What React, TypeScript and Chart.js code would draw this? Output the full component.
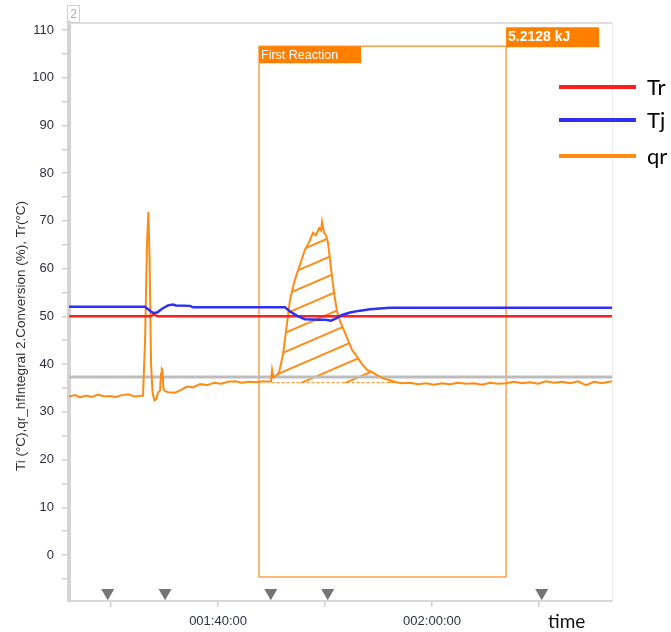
import React, { useEffect, useRef } from 'react';
import { Chart, registerables } from 'chart.js';

Chart.register(...registerables);

// ---------- data (x in minutes of elapsed time) ----------
const qrTimes = [
  86.07, 86.64, 87.1, 87.66, 88.22, 88.79, 89.35, 89.91, 90.47, 91.03, 91.59, 92.15, 92.71, 92.99,
  93.18, 93.36, 93.49, 93.6, 93.74, 93.88, 94.05, 94.21, 94.39, 94.58, 94.67, 94.74, 94.81, 94.89,
  95.0, 95.33, 95.98, 96.54, 97.1, 97.66, 98.32, 98.97, 99.63, 100.28, 100.93, 101.59, 102.24,
  102.9, 103.55, 104.21, 104.77, 104.95, 105.05, 105.19, 105.42, 105.7, 106.07, 106.36, 106.73,
  107.1, 107.38, 107.76, 108.13, 108.5, 108.88, 109.16, 109.44, 109.63, 109.72, 109.91, 110.09,
  110.28, 110.56, 110.84, 111.12, 111.4, 111.78, 112.15, 112.52, 113.0, 113.46, 113.93, 114.39,
  114.86, 115.42, 116.07, 116.64, 117.2, 117.94, 118.69, 119.44, 120.19, 120.93, 121.68, 122.43,
  123.18, 123.93, 124.67, 125.42, 126.17, 126.92, 127.66, 128.41, 129.16, 129.91, 130.65, 131.4,
  132.15, 132.9, 133.64, 134.39, 135.14, 135.89, 136.82,
];
const qrValues = [
  33.2, 33.5, 33.0, 33.4, 33.1, 33.6, 33.2, 33.3, 33.1, 33.5, 33.7, 33.2, 33.3, 33.4,
  45.0, 65.0, 71.9, 62.0, 40.0, 34.0, 32.4, 32.6, 34.0, 34.5, 38.0, 39.0, 38.8, 35.0,
  34.4, 34.1, 34.0, 34.6, 35.3, 35.1, 35.8, 35.6, 36.1, 35.9, 36.3, 36.4, 36.1,
  36.3, 36.2, 36.4, 36.3, 36.4, 38.8, 37.2, 37.6, 38.2, 42.0, 47.0, 53.5,
  57.0, 59.0, 61.5, 64.0, 65.5, 67.5, 67.0, 68.5, 68.0, 69.8, 67.5, 67.0,
  65.4, 60.0, 55.0, 51.0, 49.0, 47.0, 45.0, 43.0, 41.5, 40.0, 38.8, 38.3,
  37.7, 37.0, 36.6, 36.2, 36.0, 36.1, 35.8, 36.0, 35.7, 36.0, 35.8, 36.1,
  35.9, 36.0, 35.7, 36.1, 35.9, 36.0, 36.3, 36.0, 36.2, 35.9, 36.4, 36.1,
  36.3, 36.0, 36.4, 35.6, 36.3, 36.0, 36.4,
];
const tjTimes = [
  86.07, 93.18, 93.46, 93.93, 94.3, 94.77, 95.33, 95.79, 96.07, 97.38, 97.66, 106.26, 106.73,
  107.48, 108.13, 109.35, 110.09, 110.56, 111.03, 111.59, 112.34, 113.27, 114.21, 116.07, 136.82,
];
const tjValues = [
  52.0, 52.0, 51.5, 50.7, 50.8, 51.6, 52.3, 52.5, 52.3, 52.2, 51.9, 51.9, 51.0,
  50.0, 49.4, 49.3, 49.3, 49.1, 49.6, 50.3, 50.8, 51.2, 51.5, 51.8, 51.8,
];
const trTimes = [86.07, 93.6, 94.0, 94.4, 136.82];
const trValues = [50.0, 50.0, 50.3, 50.0, 50.0];
const refTimes = [86.07, 136.82];
const refValues = [37.3, 37.3];
const markerTimes = [89.69, 95.05, 104.93, 110.25, 130.25];
const markerLevel = -7.9;

const xTickValues = [90, 100, 110, 120, 130];
const xLabelValues = [100, 120];
const yTickValues = [-5, 0, 5, 10, 15, 20, 25, 30, 35, 40, 45, 50, 55, 60, 65, 70, 75, 80, 85, 90, 95, 100, 105, 110];
const yLabelStep = 10;
const xMin = 86.07;
const xMax = 136.82;
const yMin = -9.64;
const yMax = 111.47;

const reactionStart = 103.83;
const reactionEnd = 126.92;
const reactionTop = 106.6;
const reactionBottom = -4.6;
const reactionLabel = 'First Reaction';
const reactionEnergy = '5.2128 kJ';
const integralStart = 105.0;
const integralEnd = 116.64;
const integralBase = 36.1;

const seriesNames = ['Tr', 'Tj', 'qr'];
const yTitle = 'Ti (°C),qr_hfIntegral 2.Conversion (%), Tr(°C)';
const xTitle = 'time';
const panelNumber = '2';

// ---------- styles ----------
const RED = '#ff1f1f';
const BLUE = '#2f2ff5';
const ORANGE = '#ff8a14';
const FONT = "'Liberation Sans', Arial, sans-serif";
const LEGEND_FONT = "Lato, 'Liberation Sans', sans-serif";

const pts = (xs: number[], ys: number[]) => xs.map((x, i) => ({ x, y: ys[i] }));

const fmtTime = (m: number) => {
  const h = Math.floor(m / 60);
  const mm = Math.round(m - h * 60);
  return String(h).padStart(3, '0') + ':' + String(mm).padStart(2, '0') + ':00';
};

function makeHatch(): CanvasPattern | string {
  const W = 44, H = 19;
  const c = document.createElement('canvas');
  c.width = W;
  c.height = H;
  const g = c.getContext('2d');
  if (!g) return 'rgba(255,138,20,0.3)';
  g.strokeStyle = ORANGE;
  g.lineWidth = 2;
  g.lineCap = 'butt';
  for (const dy of [-H, 0, H]) {
    g.beginPath();
    g.moveTo(-W * 0.1, H + dy + H * 0.1);
    g.lineTo(W * 1.1, dy - H * 0.1);
    g.stroke();
  }
  const p = g.createPattern(c, 'repeat');
  return p || 'rgba(255,138,20,0.3)';
}

const overlay = {
  id: 'overlay',
  beforeDatasetsDraw(chart: any) {
    const { ctx, chartArea, scales } = chart;
    const x = scales.x, y = scales.y;
    ctx.save();
    ctx.strokeStyle = '#e0e0e0';
    ctx.lineWidth = 2;
    ctx.beginPath();
    ctx.moveTo(chartArea.left, chartArea.top);
    ctx.lineTo(chartArea.right, chartArea.top);
    ctx.stroke();
    ctx.strokeStyle = '#eeeeee';
    ctx.lineWidth = 1;
    ctx.beginPath();
    ctx.moveTo(chartArea.right + 0.5, chartArea.top);
    ctx.lineTo(chartArea.right + 0.5, chartArea.bottom);
    ctx.stroke();
    const l = x.getPixelForValue(reactionStart);
    const r = x.getPixelForValue(reactionEnd);
    const t = y.getPixelForValue(reactionTop);
    const b = y.getPixelForValue(reactionBottom);
    ctx.strokeStyle = '#f8a24c';
    ctx.lineWidth = 1.5;
    ctx.strokeRect(l, t, r - l, b - t);
    ctx.restore();
  },
  afterDraw(chart: any) {
    const { ctx, scales } = chart;
    const x = scales.x, y = scales.y;
    ctx.save();
    ctx.strokeStyle = '#d0d0d0';
    ctx.lineWidth = 1;
    ctx.strokeRect(67.5, 5.5, 12, 17);
    ctx.fillStyle = '#b0b0b0';
    ctx.font = `12px ${FONT}`;
    ctx.textAlign = 'center';
    ctx.textBaseline = 'middle';
    ctx.fillText(panelNumber, 73.5, 14.5);

    const l = x.getPixelForValue(reactionStart);
    const r = x.getPixelForValue(reactionEnd);
    const t = y.getPixelForValue(reactionTop);
    ctx.fillStyle = '#ff8000';
    ctx.fillRect(l, t, 102, 17);
    ctx.fillRect(r, t - 19, 93, 20);
    ctx.fillStyle = '#ffffff';
    ctx.textAlign = 'left';
    ctx.textBaseline = 'middle';
    ctx.font = `12.5px ${FONT}`;
    ctx.fillText(reactionLabel, l + 2, t + 9);
    ctx.font = `bold 14px ${FONT}`;
    ctx.fillText(reactionEnergy, r + 2, t - 9);

    const colors = [RED, BLUE, ORANGE];
    const ys = [87, 120, 156];
    ctx.lineWidth = 4;
    ctx.font = `22px ${LEGEND_FONT}`;
    seriesNames.forEach((name, i) => {
      ctx.strokeStyle = colors[i];
      ctx.beginPath();
      ctx.moveTo(559, ys[i]);
      ctx.lineTo(636, ys[i]);
      ctx.stroke();
      ctx.fillStyle = '#000000';
      ctx.textAlign = 'left';
      ctx.textBaseline = 'middle';
      ctx.fillText(name, 647, ys[i] + 1);
    });

    ctx.save();
    ctx.translate(21, 336);
    ctx.rotate(-Math.PI / 2);
    ctx.fillStyle = '#2e2e2e';
    ctx.font = `13.5px ${FONT}`;
    ctx.textAlign = 'center';
    ctx.textBaseline = 'middle';
    ctx.fillText(yTitle, 0, 0);
    ctx.restore();

    ctx.fillStyle = '#111111';
    ctx.font = `19px ${LEGEND_FONT}`;
    ctx.textAlign = 'left';
    ctx.textBaseline = 'alphabetic';
    ctx.fillText(xTitle, 548, 628);
    ctx.restore();
  },
};

export default function App() {
  const ref = useRef<HTMLCanvasElement | null>(null);

  useEffect(() => {
    document.body.style.margin = '0';
    const canvas = ref.current;
    if (!canvas) return;
    const hatch = makeHatch();
    const inIntegral = qrTimes
      .map((t, i) => ({ x: t, y: qrValues[i] }))
      .filter((p) => p.x >= integralStart && p.x <= integralEnd);

    const chart = new Chart(canvas, {
      type: 'line',
      data: {
        datasets: [
          {
            label: 'integral',
            data: inIntegral,
            borderWidth: 0,
            borderColor: 'rgba(0,0,0,0)',
            backgroundColor: hatch as any,
            fill: { value: integralBase },
            pointRadius: 0,
            order: 10,
          },
          {
            label: 'baseline',
            data: [
              { x: integralStart, y: integralBase },
              { x: integralEnd, y: integralBase },
            ],
            borderColor: ORANGE,
            borderWidth: 1,
            borderDash: [3, 2],
            pointRadius: 0,
            fill: false,
            order: 9,
          },
          {
            label: 'ref',
            data: pts(refTimes, refValues),
            borderColor: '#bdbdbd',
            borderWidth: 3,
            pointRadius: 0,
            fill: false,
            order: 8,
          },
          {
            label: seriesNames[2],
            data: pts(qrTimes, qrValues),
            borderColor: ORANGE,
            borderWidth: 2,
            pointRadius: 0,
            fill: false,
            order: 5,
          },
          {
            label: seriesNames[0],
            data: pts(trTimes, trValues),
            borderColor: RED,
            borderWidth: 2.5,
            pointRadius: 0,
            fill: false,
            order: 4,
          },
          {
            label: seriesNames[1],
            data: pts(tjTimes, tjValues),
            borderColor: BLUE,
            borderWidth: 2.5,
            pointRadius: 0,
            fill: false,
            order: 3,
          },
          {
            label: 'markers',
            data: markerTimes.map((t) => ({ x: t, y: markerLevel })),
            showLine: false,
            pointStyle: 'triangle',
            rotation: 180,
            pointRadius: 7.5,
            pointBackgroundColor: '#757575',
            pointBorderWidth: 0,
            pointBorderColor: '#757575',
            order: 1,
          } as any,
        ],
      },
      options: {
        animation: false,
        responsive: false,
        maintainAspectRatio: false,
        events: [],
        layout: { padding: { left: 0, right: 59, top: 23, bottom: 0 } },
        plugins: {
          legend: { display: false },
          tooltip: { enabled: false },
          title: { display: false },
        },
        scales: {
          x: {
            type: 'linear',
            min: xMin,
            max: xMax,
            afterBuildTicks: (s: any) => {
              s.ticks = xTickValues.map((v) => ({ value: v }));
            },
            afterFit: (s: any) => {
              s.height = 31;
            },
            ticks: {
              autoSkip: false,
              maxRotation: 0,
              padding: 7,
              color: '#2c3244',
              font: { family: FONT, size: 13 },
              callback: (v: any) => (xLabelValues.includes(Number(v)) ? fmtTime(Number(v)) : ''),
            },
            grid: {
              drawOnChartArea: false,
              drawTicks: true,
              tickLength: 6,
              color: '#d0d0d0',
              lineWidth: 1.5,
            },
            border: { display: true, color: '#d8d8d8', width: 2 },
          },
          y: {
            type: 'linear',
            min: yMin,
            max: yMax,
            afterBuildTicks: (s: any) => {
              s.ticks = yTickValues.map((v) => ({ value: v }));
            },
            afterFit: (s: any) => {
              s.width = 69;
            },
            ticks: {
              autoSkip: false,
              padding: 8,
              color: '#2e2e40',
              font: { family: FONT, size: 13 },
              callback: (v: any) => (Number(v) % yLabelStep === 0 ? String(v) : ''),
            },
            grid: {
              drawOnChartArea: false,
              drawTicks: true,
              tickLength: 7,
              color: '#d0d0d0',
              lineWidth: 1.5,
            },
            border: { display: true, color: '#d4d4d4', width: 4 },
          },
        },
      },
      plugins: [overlay],
    });
    return () => chart.destroy();
  }, []);

  return (
    <div style={{ position: 'absolute', left: 0, top: 0, width: 671, height: 632, background: '#ffffff' }}>
      <canvas ref={ref} width={671} height={632} style={{ width: 671, height: 632, display: 'block' }} />
    </div>
  );
}
